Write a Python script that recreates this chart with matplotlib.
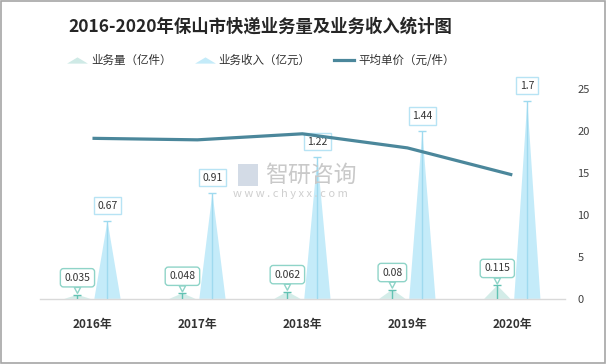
import matplotlib
matplotlib.use("Agg")
import matplotlib.pyplot as plt
from matplotlib.patches import Polygon, Rectangle
from matplotlib.lines import Line2D
from matplotlib.path import Path
import numpy as np

plt.rcParams['font.family'] = ['Noto Sans CJK SC', 'DejaVu Sans']

years = ['2016年', '2017年', '2018年', '2019年', '2020年']
volume = [0.035, 0.048, 0.062, 0.08, 0.115]          # 业务量（亿件）
revenue = [0.67, 0.91, 1.22, 1.44, 1.7]               # 业务收入（亿元）
price = [19.14, 18.96, 19.68, 18.0, 14.78]            # 平均单价（元/件）
right_ticks = [0, 5, 10, 15, 20, 25]

vol_fill = '#cfeae6'
vol_line = '#62c2b3'
vol_box = '#8fd4c8'
rev_fill = '#c4ebf9'
rev_line = '#9fdaef'
rev_box = '#b7e3f4'
line_col = '#4b879b'

fig = plt.figure(figsize=(6.06, 3.64), dpi=100)
ax = fig.add_axes([0.066, 0.179, 0.866, 0.576])
ax2 = ax.twinx()

x = np.arange(len(years))
off = 0.143
hw = 0.125

ax.set_xlim(-0.5, 4.5)
ax.set_ylim(0, 1.8)
ax2.set_ylim(0, 25)

def spike(a, xc, h, color, alpha=1.0, z=2):
    poly = Polygon([(xc - hw, 0), (xc + hw, 0), (xc, h)], closed=True,
                   facecolor=color, edgecolor='none', alpha=alpha, zorder=z)
    a.add_patch(poly)

for i in range(len(years)):
    xv = x[i] - off
    xr = x[i] + off
    spike(ax, xv, volume[i], vol_fill, 0.9)
    spike(ax, xr, revenue[i], rev_fill, 1.0)
    ax.vlines(xv, 0, volume[i], color=vol_line, lw=1.0, zorder=3)
    ax.plot([xv], [volume[i]], marker='_', ms=6, mew=1.0, color=vol_line, zorder=3)
    ax.vlines(xr, 0, revenue[i], color=rev_line, lw=1.0, zorder=3)
    ax.plot([xr], [revenue[i]], marker='_', ms=6, mew=1.0, color=rev_line, zorder=3)
    ax.annotate(f'{revenue[i]:g}', xy=(xr, revenue[i]), xytext=(0, 15),
                textcoords='offset pixels', ha='center', va='center',
                fontsize=7.5, color='#333333', zorder=5,
                bbox=dict(boxstyle='square,pad=0.35', fc='white', ec=rev_box, lw=1.0))
    ax.annotate(f'{volume[i]:g}', xy=(xv, volume[i]), xytext=(0, 17),
                textcoords='offset pixels', ha='center', va='center',
                fontsize=7.5, color='#333333', zorder=5,
                bbox=dict(boxstyle='round,pad=0.4,rounding_size=0.3', fc='white', ec=vol_box, lw=1.0),
                arrowprops=dict(arrowstyle='wedge,tail_width=0.6,shrink_factor=0.5',
                                fc='white', ec=vol_box, lw=1.0, shrinkA=0, shrinkB=1))

ax2.plot(x, price, color=line_col, lw=2.3, zorder=4, solid_capstyle='butt')

for s in ['top', 'left', 'right']:
    ax.spines[s].set_visible(False)
    ax2.spines[s].set_visible(False)
ax.spines['bottom'].set_color('#d9d9d9')
ax2.spines['bottom'].set_visible(False)
ax.spines['bottom'].set_linewidth(1.0)
ax.set_yticks([])
ax.set_xticks(x)
ax.set_xticklabels(years, fontsize=8.5, fontweight='bold', color='#333333')
ax.tick_params(axis='x', length=0, pad=14)
ax2.set_yticks(right_ticks)
ax2.set_yticklabels([str(t) for t in right_ticks], fontsize=8, color='#404040')
ax2.tick_params(axis='y', length=0, pad=9)
ax.patch.set_visible(False)

# watermark
fig.text(0.438, 0.518, '智研咨询', fontsize=16.5, color='#c9c9c9', ha='left', va='center', zorder=0)
fig.text(0.385, 0.468, 'w w w . c h y x x . c o m', fontsize=8, color='#cfcfcf', ha='left', va='center', zorder=0)
fig.patches.append(Rectangle((0.393, 0.49), 0.033, 0.06, transform=fig.transFigure,
                             facecolor='#d3dbe6', edgecolor='none', zorder=0))

# title
fig.text(0.43, 0.928, '2016-2020年保山市快递业务量及业务收入统计图', fontsize=12.5,
         fontweight='bold', color='#262626', ha='center', va='center')

# legend
tri = Path([(-1, -0.3), (1, -0.3), (0, 0.3), (-1, -0.3)])
handles = [
    Line2D([], [], ls='none', marker=tri, ms=15, mfc=vol_fill, mec='none'),
    Line2D([], [], ls='none', marker=tri, ms=15, mfc=rev_fill, mec='none'),
    Line2D([], [], color=line_col, lw=2.3),
]
labels = ['业务量（亿件）', '业务收入（亿元）', '平均单价（元/件）']
fig.legend(handles, labels, loc='center', bbox_to_anchor=(0.43, 0.835), ncol=3,
           frameon=False, fontsize=8.3, handlelength=1.8, handletextpad=0.3,
           columnspacing=2.0, labelcolor='#333333')

fig.patches.append(Rectangle((0.001, 0.002), 0.997, 0.995, transform=fig.transFigure,
                             facecolor='none', edgecolor='#a6a6a6', lw=1.2, zorder=10))

fig.savefig('out.png', dpi=100)
